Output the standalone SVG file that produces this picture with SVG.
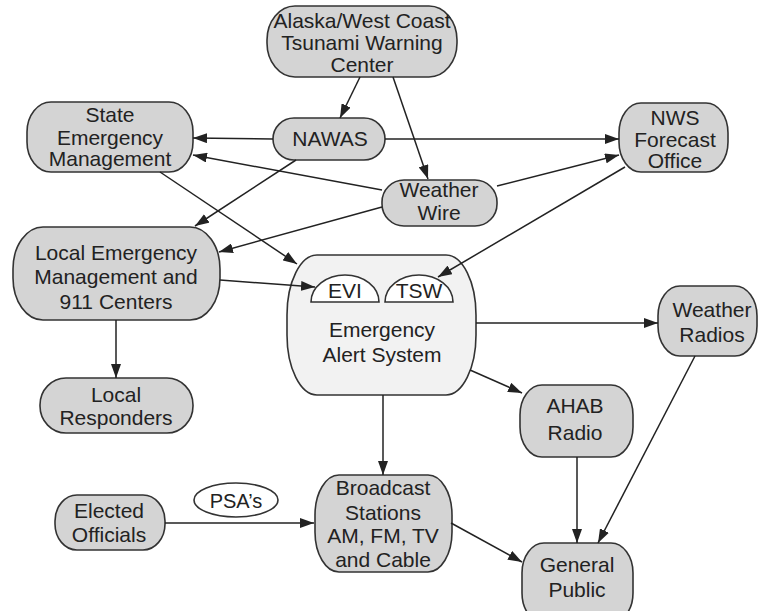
<svg xmlns="http://www.w3.org/2000/svg" width="760" height="611" viewBox="0 0 760 611">
<style>
.n{fill:#d4d4d4;stroke:#333;stroke-width:1.6}
.eas{fill:#f2f2f2;stroke:#333;stroke-width:1.6}
.dome{fill:#fff;stroke:#333;stroke-width:1.6}
.t{font-family:"Liberation Sans",Arial,sans-serif;font-size:21px;fill:#222;text-anchor:middle}
.c line{stroke:#222;stroke-width:1.5;marker-end:url(#a)}
</style>
<defs>
<marker id="a" markerUnits="userSpaceOnUse" markerWidth="14" markerHeight="10" refX="14" refY="5" orient="auto">
<path d="M0,0 L14,5 L0,10 z" fill="#222"/>
</marker>
</defs>
<rect width="760" height="611" fill="#fff"/>
<g id="alaska"><rect class="n" x="267" y="6" width="190" height="71" rx="28" ry="34"/>
<text class="t" x="362" y="28">Alaska/West Coast</text><text class="t" x="362" y="50">Tsunami Warning</text><text class="t" x="362" y="72">Center</text></g>
<g id="state"><rect class="n" x="27" y="102" width="166" height="70" rx="24" ry="30"/>
<text class="t" x="110" y="122">State</text><text class="t" x="110" y="145">Emergency</text><text class="t" x="110" y="166">Management</text></g>
<g id="nawas"><rect class="n" x="273" y="118" width="112" height="42" rx="21" ry="21"/>
<text class="t" x="330" y="146">NAWAS</text></g>
<g id="nws"><rect class="n" x="619" y="103" width="109" height="69" rx="22" ry="30"/>
<text class="t" x="675" y="125">NWS</text><text class="t" x="675" y="147">Forecast</text><text class="t" x="675" y="168">Office</text></g>
<g id="wire"><rect class="n" x="382" y="180" width="115" height="46" rx="22" ry="22"/>
<text class="t" x="439" y="197">Weather</text><text class="t" x="439" y="220">Wire</text></g>
<g id="localem"><rect class="n" x="13" y="227" width="207" height="93" rx="30" ry="42"/>
<text class="t" x="116" y="260">Local Emergency</text><text class="t" x="116" y="284">Management and</text><text class="t" x="116" y="309">911 Centers</text></g>
<g id="eas"><rect class="eas" x="287" y="255" width="189" height="140" rx="30" ry="60"/>
<path class="dome" d="M311,302 A34,27 0 0 1 379,302 Z"/>
<path class="dome" d="M385,302 A34,27 0 0 1 453,302 Z"/>
<text class="t" x="345" y="298">EVI</text><text class="t" x="419" y="298">TSW</text>
<text class="t" x="382" y="337">Emergency</text><text class="t" x="382" y="362">Alert System</text></g>
<g id="wradios"><rect class="n" x="658" y="286" width="99" height="70" rx="22" ry="30"/>
<text class="t" x="712" y="317">Weather</text><text class="t" x="712" y="342">Radios</text></g>
<g id="responders"><rect class="n" x="40" y="378" width="153" height="55" rx="26" ry="27"/>
<text class="t" x="116" y="402">Local</text><text class="t" x="116" y="425">Responders</text></g>
<g id="ahab"><rect class="n" x="520" y="385" width="113" height="72" rx="22" ry="30"/>
<text class="t" x="575" y="413">AHAB</text><text class="t" x="575" y="440">Radio</text></g>
<g id="elected"><rect class="n" x="55" y="495" width="110" height="55" rx="22" ry="26"/>
<text class="t" x="109" y="518">Elected</text><text class="t" x="109" y="542">Officials</text></g>
<g id="psa"><ellipse cx="236" cy="500" rx="42" ry="17" fill="#fff" stroke="#333" stroke-width="1.6"/>
<text class="t" x="236" y="508" style="font-size:20px">PSA’s</text></g>
<g id="broadcast"><rect class="n" x="315" y="475" width="137" height="97" rx="24" ry="40"/>
<text class="t" x="383" y="495">Broadcast</text><text class="t" x="383" y="520">Stations</text><text class="t" x="383" y="543">AM, FM, TV</text><text class="t" x="383" y="567">and Cable</text></g>
<g id="public"><rect class="n" x="522" y="543" width="111" height="80" rx="22" ry="30"/>
<text class="t" x="577" y="572">General</text><text class="t" x="577" y="597">Public</text></g>
<g class="c">
<line x1="360" y1="77" x2="340" y2="118"/>
<line x1="393" y1="77" x2="428" y2="179"/>
<line x1="273" y1="139" x2="193" y2="138"/>
<line x1="385" y1="139" x2="619" y2="139"/>
<line x1="382" y1="190" x2="193" y2="155"/>
<line x1="497" y1="186" x2="619" y2="155"/>
<line x1="296" y1="160" x2="195" y2="226"/>
<line x1="382" y1="207" x2="219" y2="252"/>
<line x1="160" y1="172" x2="297" y2="264"/>
<line x1="625" y1="167" x2="438" y2="277"/>
<line x1="220" y1="280" x2="315" y2="287"/>
<line x1="116" y1="320" x2="116" y2="378"/>
<line x1="476" y1="323" x2="658" y2="323"/>
<line x1="470" y1="370" x2="522" y2="393"/>
<line x1="383" y1="395" x2="383" y2="475"/>
<line x1="695" y1="356" x2="598" y2="543"/>
<line x1="577" y1="457" x2="577" y2="543"/>
<line x1="451" y1="523" x2="522" y2="562"/>
<line x1="165" y1="523" x2="314" y2="523"/>
</g>
</svg>
